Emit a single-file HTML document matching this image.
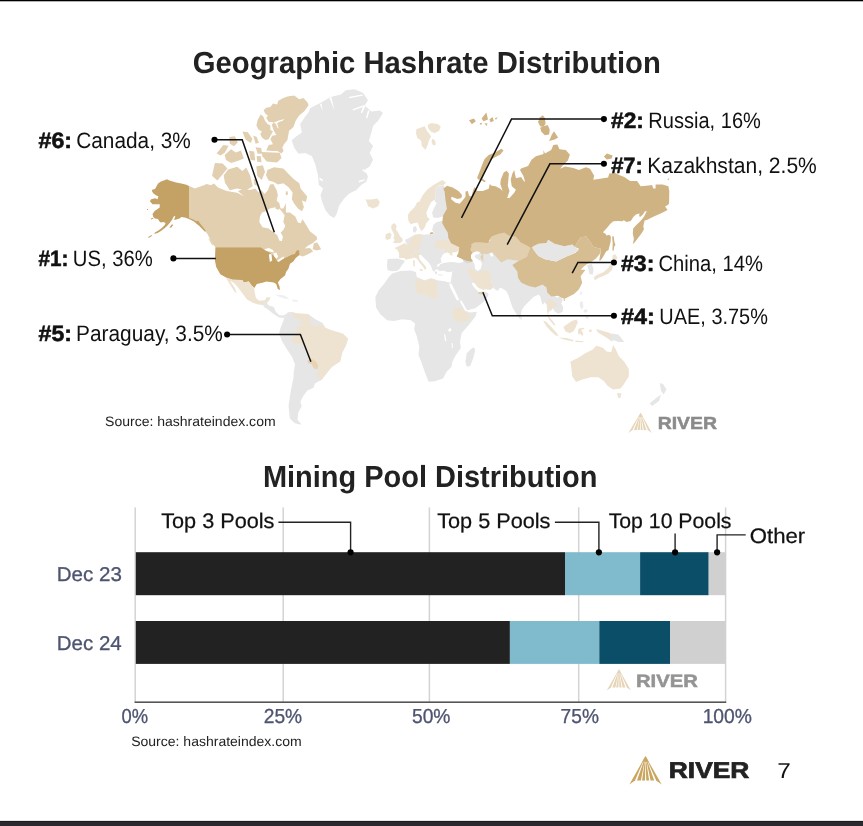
<!DOCTYPE html>
<html lang="en"><head><meta charset="utf-8"><title>Geographic Hashrate Distribution</title>
<style>
html,body{margin:0;padding:0;background:#fff;}
body{width:863px;height:826px;overflow:hidden;font-family:"Liberation Sans", sans-serif;}
svg{display:block;will-change:transform;}
</style></head><body>
<svg width="863" height="826" viewBox="0 0 863 826" font-family='"Liberation Sans", sans-serif' text-rendering="geometricPrecision">
<rect x="0" y="0" width="863" height="1.3" fill="#000"/>
<rect x="0" y="821" width="863" height="5" fill="#2b2a30"/>
<rect x="0" y="820.9" width="863" height="1.1" fill="#1c1c20"/>
<g id="map" shape-rendering="geometricPrecision">
<path d="M189.0 186.0L191.5 186.9L194.8 188.6L198.2 187.3L203.3 185.6L206.7 183.9L210.9 185.2L214.0 183.5L218.0 187.6L226.7 191.0L237.1 192.8L244.1 196.2L238.0 191.3L243.3 188.6L250.0 190.0L255.3 188.6L258.6 192.6L261.3 190.0L264.6 193.9L268.0 190.0L270.0 184.6L273.3 184.0L276.6 190.0L277.9 195.3L276.6 200.6L279.3 203.3L280.6 208.6L283.3 208.6L285.9 203.3L285.9 212.6L289.9 212.6L295.3 216.6L297.9 222.6L300.6 223.2L302.6 219.3L305.9 224.6L309.9 231.2L316.6 236.6L317.2 239.2L312.6 243.2L308.6 245.2L304.6 248.5L309.9 247.9L313.2 251.2L309.9 253.2L305.9 255.2L302.6 256.5L299.3 255.2L297.9 251.9L293.9 255.2L289.9 256.5L290.9 254.9L282.7 258.9L277.1 261.4L276.2 258.1L273.0 254.9L269.8 252.4L264.9 250.0L260.8 247.3L215.4 247.3L212.2 242.8L209.7 238.6L207.6 234.3L205.2 231.1L201.6 226.7L198.2 222.5L194.8 220.8L189.0 218.1Z" fill="#e2cfb0"/>
<path d="M262.0 212.6L260.0 216.6L259.3 221.9L262.6 227.2L268.6 228.6L273.9 232.6L277.3 235.2L279.3 240.6L281.9 241.2L282.9 236.6L280.6 232.6L283.3 229.9L285.3 225.9L283.3 221.9L284.6 215.3L282.6 212.6L279.3 208.6L275.3 207.3L270.0 208.6L266.0 211.3Z" fill="#ffffff"/>
<path d="M263.6 110.3L266.2 107.8L270.4 106.9L273.0 103.6L277.2 104.4L278.1 101.0L282.3 98.5L287.4 96.4L294.2 95.5L299.2 99.3L303.5 98.1L307.7 102.7L308.6 105.3L304.3 111.2L299.2 115.4L295.8 120.5L293.3 127.3L289.1 130.7L288.2 135.8L287.4 140.0L284.0 144.2L282.3 147.6L283.6 151.0L281.4 153.6L277.2 151.0L273.0 151.0L266.2 150.6L268.7 145.1L273.0 144.2L270.4 139.2L272.1 135.8L276.4 134.9L273.8 130.7L271.7 124.7L273.8 122.6L268.7 121.8L266.2 118.0L267.9 115.4L265.3 113.7Z" fill="#e2cfb0"/>
<path d="M273.8 122.6L278.9 120.5L284.4 119.0L282.7 120.7L278.9 122.0L277.2 123.5L278.7 128.6L277.6 128.1L275.9 123.9Z" fill="#ffffff"/>
<path d="M260.7 114.6L263.2 116.3L264.9 120.5L267.5 123.9L270.4 125.6L270.4 129.8L273.0 131.5L270.4 135.8L268.7 139.2L265.3 140.0L261.9 137.5L260.3 134.1L261.9 131.5L258.6 129.8L256.4 125.6L257.7 119.7Z" fill="#e2cfb0"/>
<path d="M261.5 151.9L279.7 152.8L281.5 158.0L277.1 162.4L266.7 161.5L262.4 156.3Z" fill="#e2cfb0"/>
<path d="M242.4 131.6L247.9 132.3L252.4 138.9L250.7 143.1L245.5 139.6Z" fill="#e2cfb0"/>
<path d="M253.3 135.8L256.6 136.8L258.9 142.7L255.6 143.8Z" fill="#e2cfb0"/>
<path d="M255.6 147.2L261.1 147.9L262.2 153.7L257.7 153.8Z" fill="#e2cfb0"/>
<path d="M249.0 150.7L254.2 151.4L255.2 160.4L250.7 160.1Z" fill="#e2cfb0"/>
<path d="M256.6 155.9L260.8 156.3L261.5 162.2L257.3 161.8Z" fill="#e2cfb0"/>
<path d="M216.6 153.5L223.2 145.1L228.5 145.8L225.0 152.4L220.6 155.6Z" fill="#e2cfb0"/>
<path d="M224.6 154.9L231.1 149.3L235.8 152.4L241.0 150.4L243.8 158.4L237.5 161.1L231.1 162.9L226.0 160.1Z" fill="#e2cfb0"/>
<path d="M229.2 137.1L234.9 136.3L237.8 142.4L234.0 146.2L229.8 143.8Z" fill="#e2cfb0"/>
<path d="M214.9 162.9L222.7 163.6L227.4 168.4L221.2 176.1L217.3 180.6L212.1 175.7Z" fill="#e2cfb0"/>
<path d="M223.6 175.4L228.1 169.5L237.1 166.7L242.4 170.9L246.2 167.4L250.0 175.0L252.8 186.2L246.2 190.3L237.1 188.6L229.8 190.3L225.0 182.7Z" fill="#e2cfb0"/>
<path d="M256.3 166.3L262.9 165.3L265.0 171.9L261.8 179.9L257.3 176.1Z" fill="#e2cfb0"/>
<path d="M253.7 178.9L257.1 179.7L258.0 185.8L254.5 184.9Z" fill="#e2cfb0"/>
<path d="M267.3 170.0L273.9 167.3L283.3 168.6L288.6 174.0L293.9 179.3L299.3 183.3L300.6 188.6L307.2 196.6L305.9 201.9L301.9 200.6L303.9 207.3L301.9 211.3L297.9 208.6L293.9 203.3L291.9 199.3L292.6 192.6L288.6 187.3L283.3 183.3L277.9 184.6L273.9 182.0L268.6 180.6L266.0 175.3Z" fill="#e2cfb0"/>
<path d="M285.7 191.6L287.5 191.3L288.1 194.6L285.9 195.3Z" fill="#e2cfb0"/>
<path d="M275.9 205.3L279.9 205.9L278.6 209.9L275.3 208.6Z" fill="#e2cfb0"/>
<path d="M313.9 243.2L317.2 242.6L321.2 249.2L316.6 250.5L312.6 249.2Z" fill="#e2cfb0"/>
<path d="M208.3 238.3L210.5 239.7L214.1 245.5L211.9 244.8Z" fill="#e2cfb0"/>
<path d="M215.4 247.3L260.8 247.3L264.9 250.0L269.8 252.4L273.0 254.9L276.2 258.1L277.1 261.4L282.7 258.9L290.9 254.9L294.9 254.1L296.5 250.8L299.0 250.0L299.4 254.9L295.7 258.1L293.3 261.4L290.0 263.8L288.4 268.7L286.0 271.9L285.2 275.2L280.3 279.2L277.9 282.5L279.5 286.5L280.0 290.1L277.9 288.9L276.2 284.1L273.8 282.5L266.5 281.6L263.3 282.5L256.8 284.1L254.3 288.1L251.9 285.7L248.7 281.6L243.8 282.5L242.2 280.0L232.4 279.7L226.0 277.6L220.3 274.3L216.2 267.0L214.9 260.6Z" fill="#c4a164"/>
<path d="M264.1 249.2L268.9 247.9L273.0 250.0L273.8 252.4L269.8 251.6L266.5 251.1Z" fill="#ffffff"/>
<path d="M268.9 254.4L271.4 253.7L272.2 260.6L269.8 261.9Z" fill="#ffffff"/>
<path d="M273.3 253.3L276.2 252.4L278.2 256.5L276.2 258.9L274.3 256.5Z" fill="#ffffff"/>
<path d="M277.1 260.6L281.9 257.6L284.4 256.5L283.5 258.6L278.7 261.9Z" fill="#ffffff"/>
<path d="M152.1 189.8L155.0 189.0L158.0 183.5L160.9 181.4L165.2 180.1L166.9 179.2L169.4 180.5L172.8 181.4L176.2 182.6L181.3 183.5L186.4 184.7L189.0 186.0L189.0 217.8L193.2 219.5L196.5 221.2L198.2 220.8L199.9 223.3L203.3 227.5L205.9 230.9L205.0 231.8L202.5 229.2L199.1 225.8L196.5 223.7L194.0 221.6L189.0 219.1L184.7 217.4L181.3 216.9L179.6 218.6L176.2 219.5L174.1 219.9L175.4 215.7L173.7 216.5L172.0 219.9L169.4 223.3L167.3 225.8L164.3 228.4L160.9 230.9L157.6 233.1L154.2 233.9L155.0 232.6L158.4 230.5L161.8 228.0L164.8 225.0L165.6 222.9L163.5 222.0L160.9 222.5L159.3 221.2L158.0 219.1L155.0 218.6L153.3 216.9L152.5 214.0L154.6 211.0L157.6 208.9L159.7 207.6L159.7 204.2L156.7 204.2L152.5 204.2L149.9 201.3L151.2 199.2L155.0 198.3L157.6 199.2L158.4 196.2L155.9 195.3L153.3 193.2L152.1 191.5Z" fill="#c4a164"/>
<path d="M169.4 227.5L172.0 224.2L173.2 225.0L171.1 227.7Z" fill="#c4a164"/>
<path d="M148.2 236.9L151.6 235.0L152.1 235.7L148.7 237.9Z" fill="#c4a164"/>
<path d="M150.8 218.6L153.3 217.8L153.5 218.5L151.2 219.6Z" fill="#c4a164"/>
<path d="M147.0 208.9L148.1 208.9L148.1 209.9L147.0 209.9Z" fill="#c4a164"/>
<path d="M226.0 277.6L232.4 279.7L242.2 280.0L243.8 282.5L248.7 281.6L251.9 285.7L254.3 288.1L254.8 293.0L256.0 297.9L259.2 300.8L264.9 300.3L266.5 297.5L270.6 297.1L268.9 301.1L264.1 305.2L258.4 304.4L253.5 303.1L247.0 299.5L242.2 293.0L237.3 286.5L233.3 282.5L230.0 280.8L234.9 288.1L236.5 293.0L234.9 292.2L230.8 285.7L227.6 280.8Z" fill="#eee3d1"/>
<path d="M263.1 303.2L266.0 301.8L268.9 305.4L274.0 306.9L275.4 311.2L279.1 314.9L282.7 315.6L285.6 314.6L284.1 318.1L279.1 317.5L273.2 313.7L267.4 309.1L263.8 306.9Z" fill="#e6e6e6"/>
<path d="M274.7 294.5L283.4 295.3L289.2 298.2L286.3 298.9L279.1 296.7Z" fill="#efefef"/>
<path d="M292.1 299.6L297.9 300.3L297.9 301.8L292.9 301.5Z" fill="#efefef"/>
<path d="M310.3 108.0L318.8 103.7L330.7 96.9L340.8 94.4L345.9 90.2L354.4 89.3L362.9 92.7L368.0 100.3L364.6 105.4L371.4 111.4L379.8 110.5L382.9 113.1L378.1 120.7L373.1 125.8L371.4 132.5L368.8 141.0L373.1 146.1L369.7 152.9L373.1 159.7L369.7 166.4L364.6 169.8L368.0 176.6L366.3 181.7L361.2 185.1L356.1 190.2L349.3 193.6L344.2 198.6L339.2 205.4L336.6 213.9L334.1 218.1L329.8 215.6L325.6 210.5L322.2 202.0L320.5 195.3L323.1 188.5L318.8 185.1L318.0 174.9L315.4 164.7L312.0 156.3L305.3 152.9L298.5 153.7L294.2 147.8L291.7 140.2L296.8 135.9L301.9 132.5L300.2 124.1L305.3 116.4L308.6 112.2Z" fill="#e6e6e6"/>
<path d="M329.3 97.8L331.4 96.9L334.4 110.2Z" fill="#ffffff"/>
<path d="M319.8 104.1L321.5 103.4L322.5 110.8Z" fill="#ffffff"/>
<path d="M348.5 96.9L362.0 94.4L363.2 95.6L349.7 98.3Z" fill="#ffffff"/>
<path d="M352.4 109.2L364.2 105.1L365.3 106.4L362.0 113.2L360.8 112.5L362.9 107.1L353.1 110.5Z" fill="#ffffff"/>
<path d="M368.0 110.2L369.7 110.8L367.1 118.6L365.9 118.0Z" fill="#ffffff"/>
<path d="M362.9 169.0L367.1 171.5L366.3 172.9L362.5 170.7Z" fill="#ffffff"/>
<path d="M358.6 180.8L364.6 179.2L364.9 180.3L359.2 182.5Z" fill="#ffffff"/>
<path d="M319.7 177.5L323.1 180.0L322.2 181.4L319.2 179.2Z" fill="#ffffff"/>
<path d="M365.4 199.5L371.4 199.5L377.3 198.6L379.8 202.0L378.1 206.3L373.1 208.5L368.0 206.3L367.1 202.9Z" fill="#eee3d1"/>
<path d="M284.9 314.9L288.1 312.3L292.1 312.0L297.9 313.4L308.1 314.1L315.4 319.2L322.6 322.9L325.5 327.9L332.8 330.8L343.0 333.8L348.1 338.8L345.9 345.4L342.3 352.6L340.1 361.4L331.4 367.2L327.0 373.0L321.2 380.2L318.4 381.6L314.9 383.6L313.5 387.8L307.3 390.6L303.1 396.2L300.3 401.7L301.7 405.9L298.2 412.8L297.5 419.8L301.7 424.7L294.8 423.3L289.9 418.4L288.5 405.9L290.6 392.0L293.4 378.1L294.8 368.3L293.6 381.7L293.6 373.0L295.0 364.3L292.1 357.0L286.3 348.3L282.0 341.0L279.1 333.8L280.5 327.9L283.4 320.7Z" fill="#e6e6e6"/>
<path d="M296.5 326.5L305.2 325.0L309.6 322.1L313.9 326.5L322.6 325.0L325.5 327.9L332.8 330.8L343.0 333.8L348.1 338.8L345.9 345.4L342.3 352.6L340.1 361.4L331.4 367.2L327.0 373.0L321.2 380.2L316.1 374.4L319.7 370.1L318.3 365.7L313.9 361.4L309.6 358.5L308.1 351.2L300.8 343.9L297.9 343.9L292.1 342.5L290.7 338.1L296.5 335.2Z" fill="#eee3d1"/>
<path d="M292.1 312.7L297.9 313.4L308.1 314.1L311.0 319.2L309.6 322.1L305.2 325.0L300.8 323.6L299.4 319.2L293.6 317.8Z" fill="#eee3d1"/>
<path d="M307.4 360.6L311.0 358.5L316.1 361.4L318.3 365.7L317.6 369.4L313.9 368.6L311.7 364.3L308.1 363.5Z" fill="#e8d4b4"/>
<path d="M392.2 273.6L400.7 271.0L410.8 270.5L415.9 271.9L416.8 276.9L424.4 280.3L431.2 278.3L437.1 280.3L444.7 281.2L449.8 282.9L452.4 285.4L456.6 293.9L460.8 303.2L465.1 310.8L470.2 312.5L476.9 311.7L475.3 316.8L468.5 325.3L461.7 332.9L460.0 341.4L460.8 348.1L454.9 356.6L452.4 361.7L451.5 366.8L446.4 371.9L443.1 378.6L434.6 381.2L428.6 381.7L425.3 373.6L421.9 363.4L418.5 354.9L419.3 346.4L416.8 336.3L414.2 329.5L415.1 323.6L410.8 320.2L402.4 319.3L393.9 321.0L387.1 320.2L380.3 314.2L376.1 307.5L375.3 297.3L378.6 290.5L385.4 282.0L388.8 276.9Z" fill="#e6e6e6"/>
<path d="M473.6 347.3L475.3 349.8L473.2 358.3L470.2 365.9L466.8 366.8L465.4 361.7L466.8 353.2L470.2 349.8Z" fill="#e6e6e6"/>
<path d="M415.9 278.6L424.4 281.2L431.2 278.6L437.1 280.3L437.1 298.1L432.9 299.0L424.4 293.9L417.6 293.9L415.1 287.1Z" fill="#eee3d1"/>
<path d="M454.9 307.5L460.0 307.5L465.1 311.7L471.9 316.8L466.8 321.0L458.3 322.7L454.1 319.3L451.5 315.1Z" fill="#eee3d1"/>
<path d="M448.1 329.2L450.7 328.1L451.5 330.8L449.0 332.0Z" fill="#ffffff"/>
<path d="M443.9 334.6L445.1 334.6L446.4 341.0L445.1 341.0Z" fill="#ffffff"/>
<path d="M451.5 343.1L452.5 343.1L452.9 348.1L451.9 348.1Z" fill="#ffffff"/>
<path d="M416.3 129.2L420.3 127.8L424.7 126.3L426.9 130.7L429.1 133.6L431.2 136.5L429.1 140.1L427.6 145.2L425.4 149.9L421.8 145.9L421.1 140.8L417.4 137.9L416.0 133.6Z" fill="#eee3d1"/>
<path d="M427.6 124.9L431.2 123.1L437.8 124.1L440.7 126.3L439.2 130.7L434.9 132.9L431.2 132.1L428.3 128.5Z" fill="#eee3d1"/>
<path d="M432.0 138.7L434.9 140.1L436.0 144.5L433.1 145.5L431.7 142.3Z" fill="#eee3d1"/>
<path d="M442.2 180.1L446.1 182.8L443.0 185.4L439.1 185.1L435.1 189.8L435.4 199.3L431.0 202.3L428.7 207.0L426.3 212.7L427.5 217.4L429.8 219.1L426.3 223.2L424.6 227.8L421.7 231.3L419.4 227.8L417.7 222.6L413.6 223.2L410.7 224.3L408.4 220.9L407.8 215.1L410.1 211.6L414.8 207.0L417.1 202.3L419.4 201.7L422.5 195.4L427.2 189.5L433.5 185.1Z" fill="#eee3d1"/>
<path d="M439.1 185.4L443.8 185.4L446.9 191.4L447.7 199.3L449.3 208.7L448.4 211.6L443.2 216.2L437.9 218.0L433.3 217.4L432.1 212.7L434.5 207.0L436.8 202.9L434.5 201.2L435.4 199.3L435.1 189.8Z" fill="#e6e6e6"/>
<path d="M413.0 227.2L415.9 226.1L417.1 230.1L414.8 233.0L413.0 231.3Z" fill="#e6e6e6"/>
<path d="M433.3 224.9L436.8 222.0L441.4 220.9L449.5 221.4L451.8 227.8L454.2 234.8L455.9 240.6L454.2 244.0L444.9 246.3L443.2 248.7L444.3 253.3L442.6 259.1L441.4 262.6L436.8 264.9L437.9 267.2L440.3 268.4L437.9 269.5L435.6 269.5L434.5 271.8L432.7 270.7L431.0 266.0L428.7 262.6L424.0 257.9L420.6 254.5L419.4 249.8L410.7 252.7L410.7 251.0L407.2 245.2L404.9 240.0L409.5 237.7L414.8 234.8L420.6 234.2L422.3 234.8L429.8 234.2L434.5 234.2L434.5 233.6L432.1 230.1Z" fill="#e6e6e6"/>
<path d="M410.4 250.1L420.0 248.9L420.8 254.7L413.6 253.8L410.4 253.1Z" fill="#e6e6e6"/>
<path d="M387.5 259.1L397.4 258.5L403.8 260.3L404.9 261.4L402.0 264.9L399.7 268.4L397.4 270.7L391.6 271.3L387.5 270.1L387.0 264.9Z" fill="#e6e6e6"/>
<path d="M394.5 248.1L398.5 246.3L404.9 242.9L407.2 245.2L409.5 244.0L410.7 248.7L413.6 250.4L413.6 253.3L411.9 255.6L413.6 257.9L409.0 259.1L406.1 259.7L403.8 257.9L399.1 257.9L399.1 253.3L397.4 249.8Z" fill="#eee3d1"/>
<path d="M410.7 238.2L414.8 234.8L420.6 234.2L422.3 234.8L421.7 239.4L420.6 244.0L420.0 248.7L417.1 250.4L413.6 250.4L410.7 248.7L409.5 244.0Z" fill="#eee3d1"/>
<path d="M413.6 253.3L420.0 252.1L420.6 254.5L418.8 255.6L419.4 259.1L422.9 263.2L425.8 266.6L426.3 268.9L424.6 269.5L422.9 266.6L420.0 263.2L417.1 259.1L414.8 257.4L413.6 257.9L411.9 255.6Z" fill="#eee3d1"/>
<path d="M413.0 260.3L414.8 260.5L414.8 266.6L413.3 266.3Z" fill="#eee3d1"/>
<path d="M419.4 268.9L422.9 269.3L422.6 270.9L420.0 270.5Z" fill="#eee3d1"/>
<path d="M391.4 224.9L394.5 222.9L396.7 226.1L395.9 229.5L398.3 232.4L399.9 235.9L402.5 238.8L402.8 240.8L400.4 242.9L395.1 243.3L393.0 242.4L394.8 240.0L393.3 238.2L394.4 235.3L392.5 231.3L391.2 228.4Z" fill="#eee3d1"/>
<path d="M385.8 234.2L389.8 232.4L391.6 234.8L390.4 238.8L387.0 240.0L385.2 238.2Z" fill="#eee3d1"/>
<path d="M434.5 246.3L436.8 240.6L446.6 240.0L451.8 242.9L458.8 245.2L460.0 248.7L456.5 252.1L451.8 252.7L453.0 255.6L449.5 255.0L447.2 252.7L444.3 253.3L443.2 248.7L435.6 248.7Z" fill="#eee3d1"/>
<path d="M429.8 233.0L432.1 231.9L434.2 233.6L430.1 234.2Z" fill="#d0b383"/>
<path d="M437.9 274.2L442.6 274.7L442.6 275.6L438.2 275.3Z" fill="#e6e6e6"/>
<path d="M434.5 272.1L436.8 271.3L437.4 273.6L435.6 274.2Z" fill="#e6e6e6"/>
<path d="M440.3 264.3L444.9 262.6L451.8 262.0L461.1 262.6L465.7 261.4L468.1 260.3L472.0 258.0L480.0 250.0L520.0 250.0L545.0 268.0L547.3 289.5L557.0 297.8L561.2 295.7L562.6 299.9L561.2 303.4L563.3 307.5L562.6 311.7L558.4 313.8L554.9 311.7L552.8 308.2L551.4 310.3L548.7 311.7L547.3 311.7L546.6 304.8L544.5 302.3L543.1 304.8L541.7 302.7L540.6 297.1L538.7 294.6L533.4 297.1L529.2 301.3L525.0 305.5L522.0 309.6L520.9 314.8L520.4 319.2L518.8 317.6L515.6 312.8L512.5 307.5L510.4 301.3L508.3 295.0L506.3 290.9L502.8 288.8L500.0 287.8L497.8 290.9L493.8 288.4L493.9 287.1L490.5 289.7L485.4 289.2L483.7 290.2L478.6 288.0L474.4 282.9L471.9 283.4L475.3 288.0L478.6 292.2L485.4 291.4L488.8 293.9L486.3 299.0L482.0 303.2L475.3 308.3L467.1 310.3L463.1 303.2L458.0 293.9L452.4 285.4L450.7 282.0L451.5 276.9L452.4 271.5L448.1 272.2L443.1 270.5L439.7 271.2L437.1 268.5Z" fill="#e6e6e6"/>
<path d="M462.3 259.1L468.1 260.3L471.5 262.6L466.9 263.2L463.4 261.4Z" fill="#d9d9d9"/>
<path d="M520.6 317.3L522.0 317.6L521.7 319.8L520.6 319.4Z" fill="#e6e6e6"/>
<path d="M466.8 266.8L471.9 268.5L476.9 272.7L482.0 270.2L488.8 270.2L491.4 276.9L490.5 282.0L493.9 287.1L490.5 289.7L483.7 288.8L478.6 288.0L473.6 282.0L470.2 276.9L468.5 271.9Z" fill="#eee3d1"/>
<path d="M546.6 299.2L551.4 299.9L555.6 302.7L557.0 306.2L552.8 307.5L551.4 310.3L549.4 308.9L548.7 311.7L548.1 315.9L550.8 318.7L553.5 322.1L555.6 325.6L553.5 324.9L550.8 321.4L548.4 318.4L547.3 311.7L547.3 304.8Z" fill="#eee3d1"/>
<path d="M469.8 246.7L471.6 242.6L474.5 240.9L480.3 240.9L484.9 242.0L490.1 240.9L490.7 234.5L498.8 232.7L506.9 231.6L512.7 227.0L520.0 227.0L533.5 247.0L527.0 256.8L518.9 260.8L512.4 260.0L507.6 259.2L501.1 262.5L496.2 256.8L492.2 252.2L486.5 254.3L483.2 253.5L483.2 261.7L480.3 257.1L482.0 254.8L479.7 251.9L475.6 254.8L472.1 253.6L471.0 250.1Z" fill="#e2cfb0"/>
<path d="M512.4 264.9L518.9 260.8L527.0 256.8L531.1 246.2L535.2 251.9L538.4 256.0L544.9 259.2L556.2 261.6L566.0 256.8L575.7 252.7L579.0 248.7L574.9 247.0L577.3 242.2L580.6 237.3L586.3 236.5L590.3 242.2L593.6 247.0L600.9 248.7L600.1 253.5L596.0 258.4L591.9 261.6L587.1 264.1L583.8 266.5L580.6 269.8L585.5 269.8L580.6 276.2L582.2 282.7L579.0 289.2L574.1 294.1L567.6 297.3L564.4 299.0L557.9 295.7L551.4 296.5L547.3 292.5L546.5 287.6L542.5 284.4L535.2 287.6L528.7 286.0L521.4 282.7L518.1 277.9L517.3 271.4Z" fill="#d6bd92"/>
<path d="M563.3 299.2L565.4 299.5L564.2 301.3Z" fill="#d6bd92"/>
<path d="M531.9 247.0L538.4 243.8L546.5 243.0L548.1 239.7L554.6 243.8L564.4 246.2L572.5 244.6L574.9 247.0L579.0 250.3L574.9 252.7L566.0 256.8L556.2 261.6L544.9 259.2L538.4 256.0L535.2 251.9Z" fill="#e6e6e6"/>
<path d="M443.5 188.7L447.0 185.8L452.7 187.5L458.5 191.0L462.0 195.0L461.4 197.9L457.4 199.1L451.6 196.8L451.0 199.1L455.1 202.6L459.7 203.7L463.2 199.7L465.5 196.8L465.5 191.6L467.8 191.0L469.0 195.6L471.3 196.8L473.6 188.7L474.8 186.9L477.1 191.0L482.9 191.0L488.7 188.7L489.8 184.0L491.6 185.8L495.6 186.3L500.3 188.7L502.6 191.0L500.3 184.0L500.8 179.4L503.7 172.4L506.6 170.7L508.9 173.6L508.4 179.4L507.8 185.8L509.5 191.0L507.2 197.9L509.5 197.9L514.2 192.7L515.9 189.8L511.8 186.3L510.7 179.4L512.4 173.6L514.2 170.1L515.9 178.2L521.1 177.1L523.4 180.6L525.2 182.3L523.4 175.9L520.0 170.1L521.1 168.4L528.1 166.1L531.5 159.7L535.9 156.2L543.5 154.1L543.5 149.9L544.9 153.4L551.2 149.9L553.3 145.1L557.4 144.4L559.5 149.2L565.8 149.9L569.9 154.8L567.9 160.4L562.3 165.9L560.2 168.7L565.1 166.6L573.4 168.0L579.0 170.1L585.9 167.3L590.1 168.7L594.2 175.8L593.2 179.7L600.0 178.7L608.1 177.5L609.3 173.5L615.1 172.9L619.7 175.2L624.3 177.0L630.1 181.0L637.1 181.0L640.6 186.2L648.7 185.6L652.1 185.1L653.3 188.5L655.6 188.5L655.6 184.5L662.6 184.5L668.4 186.2L669.3 190.9L669.1 203.0L668.5 204.4L665.1 206.6L667.6 210.0L661.7 212.9L654.9 215.9L649.8 218.5L647.4 219.8L644.7 220.5L644.0 222.9L643.3 226.4L644.0 229.2L641.9 232.7L640.5 234.8L638.4 237.5L636.3 240.3L634.2 243.1L632.8 244.1L633.9 238.9L632.8 233.4L633.2 228.5L636.3 225.0L640.5 220.9L644.0 216.7L646.1 212.5L646.8 211.1L644.7 211.5L643.3 213.9L640.5 216.7L639.1 216.3L639.5 213.6L636.3 214.3L633.5 216.7L630.8 220.9L626.6 221.9L623.8 220.2L622.4 221.2L618.2 220.9L613.4 221.2L610.6 223.6L607.1 227.8L603.0 232.3L605.7 234.1L606.4 235.5L609.2 234.8L610.9 236.8L610.6 241.7L609.2 247.3L608.5 250.0L606.1 251.5L602.7 257.5L600.7 260.3L599.2 260.8L600.4 253.5L600.9 248.7L593.6 247.0L590.3 242.2L586.3 236.5L580.6 237.3L577.3 242.2L574.9 247.0L572.5 244.6L564.4 246.2L554.6 243.8L548.1 239.7L546.5 243.0L538.4 243.8L531.9 247.0L531.1 247.9L527.0 245.4L520.6 242.2L515.7 236.5L509.2 235.7L504.3 232.4L497.8 234.1L491.4 236.5L488.1 243.0L480.0 242.2L474.8 242.2L471.0 244.2L471.6 245.3L470.6 249.4L472.6 253.5L473.7 259.7L471.6 261.7L466.5 260.7L461.3 258.7L456.2 256.6L458.2 253.5L459.3 247.3L451.0 243.2L447.9 237.0L448.5 238.7L447.7 232.4L444.6 227.6L442.2 222.9L443.0 215.8L446.9 208.7L445.4 199.3L444.6 191.4L443.0 188.3Z" fill="#d0b383"/>
<path d="M477.1 177.7L478.8 173.6L480.6 169.0L482.3 164.3L484.6 159.1L488.7 155.1L494.5 152.7L501.4 148.7L503.5 150.4L500.3 154.5L494.5 157.4L489.8 160.3L487.5 164.9L485.8 169.5L484.0 174.8L482.3 178.8L485.8 181.1L484.6 182.3L480.6 180.0L478.2 179.4Z" fill="#d0b383"/>
<path d="M469.0 120.3L473.9 118.4L475.8 121.3L471.9 124.2Z" fill="#d0b383"/>
<path d="M481.6 118.4L486.4 112.6L488.0 119.4L483.5 121.3Z" fill="#d0b383"/>
<path d="M489.4 119.4L492.6 117.0L493.8 120.9L490.7 122.3Z" fill="#d0b383"/>
<path d="M494.6 118.4L497.7 117.0L496.1 119.7Z" fill="#d0b383"/>
<path d="M479.7 123.2L482.2 122.8L481.0 125.2Z" fill="#d0b383"/>
<path d="M484.5 123.6L487.4 123.2L486.8 126.1Z" fill="#d0b383"/>
<path d="M538.0 122.1L540.1 117.2L542.8 115.2L544.9 117.9L545.6 123.5L543.5 127.0L540.1 126.3Z" fill="#d0b383"/>
<path d="M540.1 127.7L543.5 126.3L547.7 124.9L549.8 129.8L549.1 134.6L544.9 135.3L541.4 131.8Z" fill="#d0b383"/>
<path d="M549.1 140.9L551.9 134.6L554.0 131.2L558.1 137.4L554.7 139.5Z" fill="#d0b383"/>
<path d="M603.9 156.4L606.8 153.5L612.6 155.5L611.6 158.4L606.8 159.4Z" fill="#d0b383"/>
<path d="M667.4 179.3L669.3 178.1L668.6 180.2Z" fill="#d0b383"/>
<path d="M612.1 236.5L613.7 236.2L614.4 241.7L615.5 245.2L614.4 245.9L613.5 250.8L612.4 250.8L612.7 243.1Z" fill="#d0b383"/>
<path d="M471.0 254.8L473.3 252.4L476.8 251.3L479.7 251.9L479.1 254.2L475.6 254.8L474.5 257.1L477.9 259.4L480.8 261.1L482.0 264.0L480.8 268.7L477.9 271.0L475.0 268.7L474.5 264.0L472.7 260.6L471.0 258.2Z" fill="#ffffff"/>
<path d="M471.6 282.6L473.9 283.2L476.8 286.6L480.3 289.5L484.3 290.1L485.1 291.4L482.6 292.4L479.1 291.8L475.6 288.9L472.7 285.5Z" fill="#ffffff"/>
<path d="M447.8 282.6L453.0 282.6L461.7 301.1L454.8 301.1Z" fill="#e6e6e6"/>
<path d="M449.0 283.6L451.3 283.4L455.1 290.7L459.4 300.2L456.8 300.2L453.0 293.0L450.4 287.8Z" fill="#ffffff"/>
<path d="M477.9 292.3L483.5 291.6L484.0 293.2L480.8 294.4L478.3 293.7Z" fill="#e6cfa8"/>
<path d="M440.7 258.7L442.8 254.5L446.9 252.5L450.0 253.5L449.0 256.0L453.1 256.6L454.1 253.5L457.2 253.1L456.6 256.6L461.3 259.1L463.4 261.7L458.2 262.8L450.0 261.7L443.8 262.8L441.3 261.7Z" fill="#ffffff"/>
<path d="M489.7 253.5L492.2 252.7L493.3 256.0L491.0 256.8Z" fill="#ffffff"/>
<path d="M587.1 264.9L591.9 264.1L593.6 269.8L592.8 274.6L589.5 274.3L588.4 269.8Z" fill="#e6e6e6"/>
<path d="M593.6 277.5L596.8 275.0L603.3 272.2L608.2 268.1L610.6 264.1L613.0 264.9L612.2 269.8L608.2 273.8L603.3 275.9L598.4 277.9L595.2 280.3Z" fill="#eee3d1"/>
<path d="M612.7 255.2L615.5 254.3L617.6 258.1L614.7 260.4L612.2 258.4Z" fill="#eee3d1"/>
<path d="M580.2 291.6L582.0 292.0L581.3 295.3L580.1 294.3Z" fill="#ececec"/>
<path d="M579.9 302.0L582.7 301.3L583.4 306.2L582.0 309.6L579.9 306.8Z" fill="#ececec"/>
<path d="M583.4 310.3L586.9 308.9L587.6 311.7L584.8 313.1Z" fill="#ececec"/>
<path d="M585.5 315.9L588.3 315.2L588.3 318.7L586.2 318.7Z" fill="#ececec"/>
<path d="M543.1 320.8L545.9 321.4L551.4 327.0L557.0 333.3L558.4 336.0L555.6 335.4L550.1 330.5L545.9 325.6Z" fill="#eee3d1"/>
<path d="M558.4 337.4L566.7 338.1L573.7 340.2L573.0 341.6L564.0 339.5Z" fill="#eee3d1"/>
<path d="M575.1 340.6L583.4 341.2L583.1 342.3L575.8 341.9Z" fill="#eee3d1"/>
<path d="M563.3 327.0L568.1 323.5L572.3 320.8L576.5 319.4L577.9 322.1L575.8 327.0L573.7 331.2L569.5 333.3L565.4 331.2Z" fill="#eee3d1"/>
<path d="M578.6 328.4L583.4 327.7L584.8 329.1L581.3 329.8L583.4 334.0L582.0 336.0L579.9 333.3L578.6 335.4L577.9 331.2Z" fill="#eee3d1"/>
<path d="M589.0 329.8L591.8 329.5L591.5 331.9L589.3 331.9Z" fill="#eee3d1"/>
<path d="M595.9 329.1L601.5 330.5L608.5 332.6L611.2 334.0L611.2 340.9L607.1 338.1L602.9 335.4L598.0 332.6Z" fill="#eee3d1"/>
<path d="M610.7 333.2L618.7 334.7L624.2 342.1L618.7 342.1L614.0 340.3L610.7 341.5Z" fill="#e6e6e6"/>
<path d="M570.4 361.6L577.9 357.9L585.3 353.2L592.7 349.5L596.4 345.8L602.9 347.7L606.6 351.4L611.2 352.3L613.1 344.9L615.9 349.5L618.7 356.0L624.2 361.6L628.8 369.0L628.8 376.4L624.2 383.8L620.5 388.5L613.1 389.4L607.5 385.7L603.8 381.0L598.3 377.3L590.8 377.3L583.4 379.2L576.0 382.0L572.3 376.4L571.4 369.0Z" fill="#eee3d1"/>
<path d="M616.8 393.1L621.4 393.5L620.5 397.7L618.3 398.3Z" fill="#eee3d1"/>
<path d="M659.8 383.1L663.1 384.3L666.6 389.4L663.6 394.5L661.0 390.7Z" fill="#e6e6e6"/>
<path d="M661.0 394.5L659.0 400.9L652.1 405.9L649.6 403.4L655.9 398.3Z" fill="#e6e6e6"/>
</g>
<text x="192.74" y="73.0" font-size="30.5" font-weight="bold" fill="#222" text-anchor="start" textLength="468.12" lengthAdjust="spacingAndGlyphs">Geographic Hashrate Distribution</text>
<text x="262.88" y="487.0" font-size="30.5" font-weight="bold" fill="#222" text-anchor="start" textLength="334.58" lengthAdjust="spacingAndGlyphs">Mining Pool Distribution</text>
<text x="38.60" y="148.0" font-size="22.3" font-weight="bold" fill="#111" text-anchor="start" textLength="33.42" lengthAdjust="spacingAndGlyphs" stroke="#111" stroke-width="0.55">#6:</text>
<text x="76.23" y="148.0" font-size="22.3" font-weight="normal" fill="#111" text-anchor="start" textLength="114.63" lengthAdjust="spacingAndGlyphs">Canada, 3%</text>
<text x="38.60" y="266.0" font-size="22.3" font-weight="bold" fill="#111" text-anchor="start" textLength="29.92" lengthAdjust="spacingAndGlyphs" stroke="#111" stroke-width="0.55">#1:</text>
<text x="72.82" y="266.0" font-size="22.3" font-weight="normal" fill="#111" text-anchor="start" textLength="80.00" lengthAdjust="spacingAndGlyphs">US, 36%</text>
<text x="38.60" y="341.0" font-size="22.3" font-weight="bold" fill="#111" text-anchor="start" textLength="33.35" lengthAdjust="spacingAndGlyphs" stroke="#111" stroke-width="0.55">#5:</text>
<text x="76.08" y="341.0" font-size="22.3" font-weight="normal" fill="#111" text-anchor="start" textLength="146.79" lengthAdjust="spacingAndGlyphs">Paraguay, 3.5%</text>
<text x="611.10" y="128.0" font-size="22.3" font-weight="bold" fill="#111" text-anchor="start" textLength="32.85" lengthAdjust="spacingAndGlyphs" stroke="#111" stroke-width="0.55">#2:</text>
<text x="648.37" y="128.0" font-size="22.3" font-weight="normal" fill="#111" text-anchor="start" textLength="112.49" lengthAdjust="spacingAndGlyphs">Russia, 16%</text>
<text x="611.15" y="173.0" font-size="22.3" font-weight="bold" fill="#111" text-anchor="start" textLength="31.76" lengthAdjust="spacingAndGlyphs" stroke="#111" stroke-width="0.55">#7:</text>
<text x="647.13" y="173.0" font-size="22.3" font-weight="normal" fill="#111" text-anchor="start" textLength="169.73" lengthAdjust="spacingAndGlyphs">Kazakhstan, 2.5%</text>
<text x="621.04" y="271.0" font-size="22.3" font-weight="bold" fill="#111" text-anchor="start" textLength="33.30" lengthAdjust="spacingAndGlyphs" stroke="#111" stroke-width="0.55">#3:</text>
<text x="658.39" y="271.0" font-size="22.3" font-weight="normal" fill="#111" text-anchor="start" textLength="104.52" lengthAdjust="spacingAndGlyphs">China, 14%</text>
<text x="621.04" y="324.0" font-size="22.3" font-weight="bold" fill="#111" text-anchor="start" textLength="33.77" lengthAdjust="spacingAndGlyphs" stroke="#111" stroke-width="0.55">#4:</text>
<text x="659.33" y="324.0" font-size="22.3" font-weight="normal" fill="#111" text-anchor="start" textLength="108.57" lengthAdjust="spacingAndGlyphs">UAE, 3.75%</text>
<path d="M214.5 139.7 L242.2 139.7 L274.3 232.3" fill="none" stroke="#111" stroke-width="1.5"/><circle cx="214.5" cy="139.7" r="3.05" fill="#000"/>
<path d="M173.4 258.4 L215.8 258.4" fill="none" stroke="#111" stroke-width="1.5"/><circle cx="173.4" cy="258.4" r="3.05" fill="#000"/>
<path d="M227.1 334.5 L300.4 334.5 L310.9 361.7" fill="none" stroke="#111" stroke-width="1.5"/><circle cx="227.1" cy="334.5" r="3.05" fill="#000"/>
<path d="M603.9 119.1 L511.5 119.1 L461.5 217.9" fill="none" stroke="#111" stroke-width="1.5"/><circle cx="603.9" cy="119.1" r="3.05" fill="#000"/>
<path d="M603.9 163.8 L549.9 163.8 L507.2 244.6" fill="none" stroke="#111" stroke-width="1.5"/><circle cx="603.9" cy="163.8" r="3.05" fill="#000"/>
<path d="M613.9 262.5 L577.9 262.5 L572.2 273.2" fill="none" stroke="#111" stroke-width="1.5"/><circle cx="613.9" cy="262.5" r="3.05" fill="#000"/>
<path d="M613.9 315.7 L492.3 315.7 L482.9 292.2" fill="none" stroke="#111" stroke-width="1.5"/><circle cx="613.9" cy="315.7" r="3.05" fill="#000"/>
<text x="105.09" y="425.6" font-size="13.7" font-weight="normal" fill="#222" text-anchor="start" textLength="170.51" lengthAdjust="spacingAndGlyphs">Source: hashrateindex.com</text>
<text x="131.19" y="746.2" font-size="13.7" font-weight="normal" fill="#222" text-anchor="start" textLength="170.51" lengthAdjust="spacingAndGlyphs">Source: hashrateindex.com</text>
<polygon points="645.5,756.1 629.4,784.6 635.0,780.6" fill="#c9a55e"/><polygon points="645.5,756.1 637.0,780.6 640.9,780.6" fill="#c9a55e"/><polygon points="645.5,756.1 642.1,780.6 645.0,780.6" fill="#c9a55e"/><polygon points="645.5,756.1 646.3,780.6 649.1,780.6" fill="#c9a55e"/><polygon points="645.5,756.1 650.6,780.6 654.2,780.6" fill="#c9a55e"/><polygon points="645.5,756.1 656.2,780.6 661.7,784.6" fill="#c9a55e"/><polygon points="645.5,756.1 642.3,761.8 648.7,761.8" fill="#c9a55e"/>
<text x="668.78" y="778.4" font-size="22.8" font-weight="bold" fill="#222" text-anchor="start" textLength="80.62" lengthAdjust="spacingAndGlyphs" stroke="#222" stroke-width="0.7">RIVER</text>
<text x="777.28" y="778.4" font-size="21.5" font-weight="normal" fill="#111" text-anchor="start" textLength="13.56" lengthAdjust="spacingAndGlyphs">7</text>
<polygon points="640.6,412.8 628.4,433.1 632.5,430.1" fill="#e6d4b6"/><polygon points="640.6,412.8 633.9,430.1 636.8,430.1" fill="#e6d4b6"/><polygon points="640.6,412.8 637.6,430.1 639.8,430.1" fill="#e6d4b6"/><polygon points="640.6,412.8 640.7,430.1 642.7,430.1" fill="#e6d4b6"/><polygon points="640.6,412.8 643.8,430.1 646.4,430.1" fill="#e6d4b6"/><polygon points="640.6,412.8 647.9,430.1 651.9,433.1" fill="#e6d4b6"/><polygon points="640.6,412.8 638.2,416.9 643.0,416.9" fill="#e6d4b6"/>
<text x="657.73" y="429.1" font-size="17.5" font-weight="bold" fill="#8c8a8a" text-anchor="start" textLength="59.27" lengthAdjust="spacingAndGlyphs" stroke="#8c8a8a" stroke-width="0.5">RIVER</text>
<polygon points="619.0,669.2 606.7,690.5 610.9,687.5" fill="#e6d4b6"/><polygon points="619.0,669.2 612.4,687.5 615.4,687.5" fill="#e6d4b6"/><polygon points="619.0,669.2 616.2,687.5 618.4,687.5" fill="#e6d4b6"/><polygon points="619.0,669.2 619.4,687.5 621.5,687.5" fill="#e6d4b6"/><polygon points="619.0,669.2 622.6,687.5 625.4,687.5" fill="#e6d4b6"/><polygon points="619.0,669.2 626.9,687.5 631.0,690.5" fill="#e6d4b6"/><polygon points="619.0,669.2 616.6,673.5 621.4,673.5" fill="#e6d4b6"/>
<text x="635.94" y="686.5" font-size="17.9" font-weight="bold" fill="#959393" text-anchor="start" textLength="61.87" lengthAdjust="spacingAndGlyphs" stroke="#959393" stroke-width="0.5">RIVER</text>
<rect x="134.45" y="507.4" width="1.5" height="195" fill="#d3d3d3"/>
<rect x="282.45" y="507.4" width="1.5" height="195" fill="#d3d3d3"/>
<rect x="428.65" y="507.4" width="1.5" height="195" fill="#d3d3d3"/>
<rect x="577.95" y="507.4" width="1.5" height="195" fill="#d3d3d3"/>
<rect x="724.85" y="507.4" width="1.5" height="195" fill="#d3d3d3"/>
<rect x="134.6" y="701.4" width="591.6" height="1.6" fill="#555"/>
<rect x="135.8" y="552.2" width="429.2" height="43.0" fill="#222222"/><rect x="565.0" y="552.2" width="75.1" height="43.0" fill="#7fbbcd"/><rect x="640.1" y="552.2" width="68.6" height="43.0" fill="#0b4e68"/><rect x="708.7" y="552.2" width="16.8" height="43.0" fill="#d0d0d0"/>
<rect x="135.8" y="621.0" width="374.1" height="42.9" fill="#222222"/><rect x="509.9" y="621.0" width="89.4" height="42.9" fill="#7fbbcd"/><rect x="599.3" y="621.0" width="70.7" height="42.9" fill="#0b4e68"/><rect x="670.0" y="621.0" width="55.5" height="42.9" fill="#d0d0d0"/>
<text x="56.74" y="581.0" font-size="20.0" font-weight="normal" fill="#4d5470" text-anchor="start" textLength="65.19" lengthAdjust="spacingAndGlyphs" stroke="#4d5470" stroke-width="0.3">Dec 23</text>
<text x="56.75" y="650.0" font-size="20.0" font-weight="normal" fill="#4d5470" text-anchor="start" textLength="64.93" lengthAdjust="spacingAndGlyphs" stroke="#4d5470" stroke-width="0.3">Dec 24</text>
<text x="161.20" y="528.0" font-size="21.1" font-weight="normal" fill="#111" text-anchor="start" textLength="113.21" lengthAdjust="spacingAndGlyphs" stroke="#111" stroke-width="0.25">Top 3 Pools</text>
<text x="437.20" y="528.1" font-size="21.1" font-weight="normal" fill="#111" text-anchor="start" textLength="113.21" lengthAdjust="spacingAndGlyphs" stroke="#111" stroke-width="0.25">Top 5 Pools</text>
<text x="608.70" y="527.9" font-size="21.1" font-weight="normal" fill="#111" text-anchor="start" textLength="122.81" lengthAdjust="spacingAndGlyphs" stroke="#111" stroke-width="0.25">Top 10 Pools</text>
<text x="749.83" y="543.0" font-size="21.1" font-weight="normal" fill="#111" text-anchor="start" textLength="55.42" lengthAdjust="spacingAndGlyphs" stroke="#111" stroke-width="0.25">Other</text>
<path d="M278.4 522.2 L350.6 522.2 L350.6 552.3" fill="none" stroke="#222" stroke-width="1.4"/><circle cx="350.6" cy="552.3" r="3.1" fill="#000"/>
<path d="M554.9 522.2 L598.9 522.2 L598.9 552.3" fill="none" stroke="#222" stroke-width="1.4"/><circle cx="598.9" cy="552.3" r="3.1" fill="#000"/>
<path d="M675.1 533.4 L675.1 552.3" fill="none" stroke="#222" stroke-width="1.4"/><circle cx="675.1" cy="552.3" r="3.1" fill="#000"/>
<path d="M745.7 534.9 L717.1 534.9 L717.1 552.3" fill="none" stroke="#222" stroke-width="1.4"/><circle cx="717.1" cy="552.3" r="3.1" fill="#000"/>
<text x="121.48" y="723.0" font-size="20.3" font-weight="normal" fill="#4d5470" text-anchor="start" textLength="26.59" lengthAdjust="spacingAndGlyphs" stroke="#4d5470" stroke-width="0.3">0%</text>
<text x="263.73" y="723.0" font-size="20.3" font-weight="normal" fill="#4d5470" text-anchor="start" textLength="38.40" lengthAdjust="spacingAndGlyphs" stroke="#4d5470" stroke-width="0.3">25%</text>
<text x="411.96" y="723.0" font-size="20.3" font-weight="normal" fill="#4d5470" text-anchor="start" textLength="38.54" lengthAdjust="spacingAndGlyphs" stroke="#4d5470" stroke-width="0.3">50%</text>
<text x="560.61" y="723.0" font-size="20.3" font-weight="normal" fill="#4d5470" text-anchor="start" textLength="38.34" lengthAdjust="spacingAndGlyphs" stroke="#4d5470" stroke-width="0.3">75%</text>
<text x="702.65" y="723.0" font-size="20.3" font-weight="normal" fill="#4d5470" text-anchor="start" textLength="49.34" lengthAdjust="spacingAndGlyphs" stroke="#4d5470" stroke-width="0.3">100%</text>
</svg>
</body></html>
